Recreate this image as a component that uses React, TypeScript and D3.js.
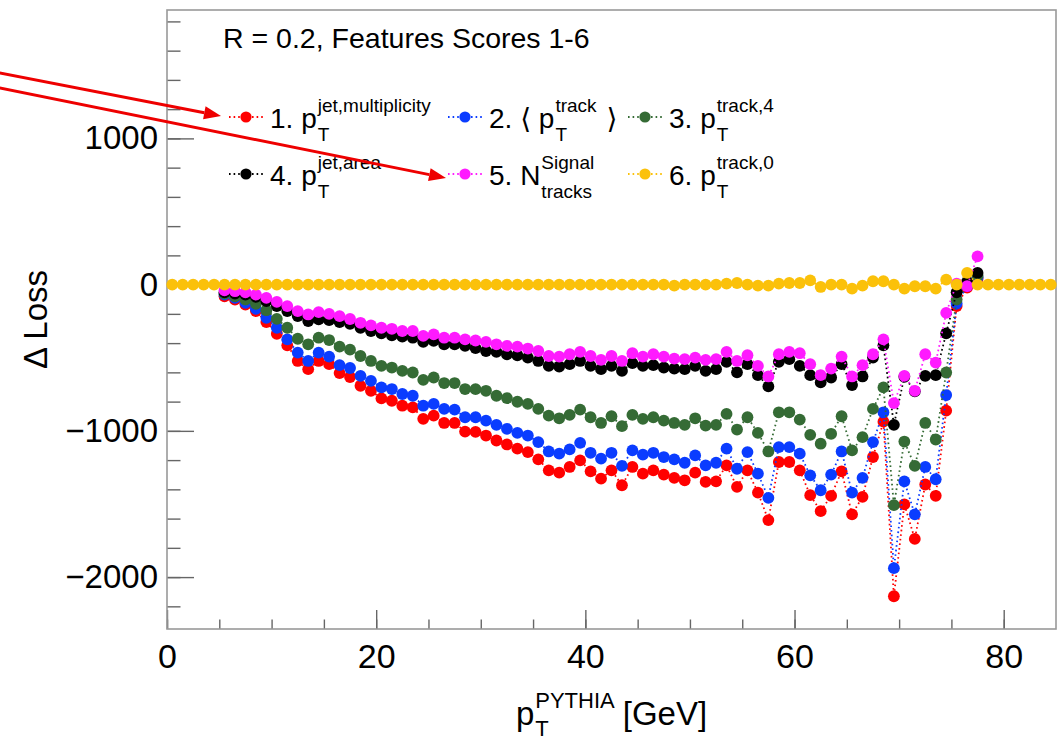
import React, { useEffect, useRef } from 'react';
import * as d3 from 'd3';

const W = 1061;
const H = 745;
const FONT = '"Liberation Sans", Arial, Helvetica, "DejaVu Sans", sans-serif';

// frame of the plot
const FRAME = { left: 167, right: 1056, top: 10, bottom: 629 };

// one bin per GeV, centres 0.5 .. 84.5
const binCentres = d3.range(85).map((i) => i + 0.5);
const firstBin = 5; // features 1-5 are filled from 5.5 GeV up to 77.5 GeV

const xTicks = [0, 20, 40, 60, 80];
const yTicks = [-2000, -1000, 0, 1000];

// features 1-5, bins 5..77
const feat1 = [
  -80, -102, -136, -181, -256, -336, -415, -522, -578, -522,
  -544, -605, -632, -692, -726, -778, -794, -828, -839, -918,
  -896, -946, -946, -1005, -1007, -1032, -1066, -1093, -1122, -1145,
  -1195, -1270, -1286, -1247, -1202, -1277, -1327, -1270, -1372, -1247,
  -1293, -1270, -1299, -1322, -1338, -1286, -1349, -1345, -1236, -1383,
  -1270, -1422, -1610, -1213, -1213, -1270, -1440, -1549, -1444, -1277,
  -1571, -1451, -1179, -937, -2131, -1503, -1739, -1367, -1444, -862,
  -147, -20, 40,
];
const feat2 = [
  -68, -91, -125, -166, -227, -295, -374, -465, -522, -465,
  -492, -551, -570, -624, -658, -703, -714, -748, -760, -828,
  -816, -850, -855, -907, -907, -930, -959, -986, -1014, -1032,
  -1077, -1141, -1156, -1127, -1082, -1150, -1190, -1150, -1240, -1134,
  -1163, -1150, -1179, -1195, -1218, -1168, -1236, -1218, -1122, -1259,
  -1145, -1293, -1458, -1111, -1111, -1156, -1304, -1406, -1299, -1141,
  -1422, -1322, -1077, -873, -1939, -1345, -1571, -1247, -1331, -755,
  -129, -10, 50,
];
const feat3 = [
  -61, -80, -102, -131, -175, -234, -295, -370, -408, -363,
  -379, -424, -445, -488, -522, -556, -567, -590, -601, -651,
  -635, -673, -673, -714, -715, -726, -760, -776, -801, -816,
  -850, -896, -914, -891, -855, -907, -946, -900, -968, -891,
  -918, -907, -930, -946, -959, -914, -964, -959, -884, -991,
  -907, -1014, -1141, -873, -873, -923, -1027, -1088, -1020, -900,
  -1134, -1043, -850, -703, -1508, -1073, -1240, -946, -1059, -601,
  -102, 0, 60,
];
const feat4 = [
  -52, -61, -68, -84, -113, -147, -181, -215, -249, -238,
  -243, -256, -268, -295, -317, -333, -347, -356, -363, -392,
  -385, -408, -408, -419, -434, -454, -460, -476, -483, -499,
  -522, -556, -560, -544, -522, -556, -578, -556, -590, -537,
  -556, -551, -567, -574, -578, -556, -590, -578, -528, -600,
  -544, -619, -696, -528, -510, -556, -619, -669, -635, -544,
  -687, -628, -499, -415, -959, -630, -730, -624, -619, -333,
  -52, 20, 80,
];
const feat5 = [
  -39, -45, -52, -68, -91, -118, -147, -181, -204, -188,
  -200, -215, -235, -261, -279, -295, -302, -317, -317, -351,
  -340, -363, -363, -374, -382, -392, -408, -419, -424, -437,
  -454, -488, -492, -476, -460, -488, -515, -488, -522, -469,
  -492, -476, -492, -506, -510, -499, -515, -510, -460, -522,
  -483, -556, -628, -476, -460, -469, -544, -619, -574, -492,
  -628, -551, -476, -374, -810, -624, -726, -476, -533, -193,
  7, -10, 193,
];
// feature 6, all bins 0..84
const feat6 = [
  0, 0, 0, 0, 0, 0, 0, 0, 0, 0,
  0, 0, 0, 0, 0, 0, 0, 0, 0, 0,
  0, 0, 0, 0, 0, 0, 0, 0, 0, 0,
  0, 0, 0, 0, 0, 0, 0, 0, 0, 0,
  0, 0, 0, 0, 0, 0, 0, 0, -7, 0,
  0, 0, 0, 7, 11, 0, -7, -7, 7, 11,
  11, 29, -16, 0, 0, -27, -7, 23, 23, 0,
  -27, -11, -11, -27, 34, 0, 80, 0, 0, 0,
  0, 0, 0, 0, 0,
];

const series = [
  { values: feat1, start: firstBin, color: '#ff0000' },
  { values: feat2, start: firstBin, color: '#0a3cff' },
  { values: feat3, start: firstBin, color: '#356b35' },
  { values: feat4, start: firstBin, color: '#000000' },
  { values: feat5, start: firstBin, color: '#ff1aff' },
  { values: feat6, start: 0, color: '#fbc10a' },
];

type Piece = { t: string; sup?: string; sub?: string; gap?: number };

// legend entries, three per row
const legendEntries: Piece[][] = [
  [{ t: '1. p', sup: 'jet,multiplicity', sub: 'T' }],
  [{ t: '2. \u27E8 p', sup: 'track', sub: 'T' }, { t: '\u27E9', gap: 10 }],
  [{ t: '3. p', sup: 'track,4', sub: 'T' }],
  [{ t: '4. p', sup: 'jet,area', sub: 'T' }],
  [{ t: '5. N', sup: 'Signal', sub: 'tracks' }],
  [{ t: '6. p', sup: 'track,0', sub: 'T' }],
];

// text with stacked super/subscripts, returns its width
function drawRich(g: any, x: number, y: number, pieces: Piece[], size: number, small: number, supDy: number, subDy: number) {
  let cx = x;
  pieces.forEach((p) => {
    cx += p.gap || 0;
    const m = g.append('text').attr('x', cx).attr('y', y).attr('font-size', size).text(p.t);
    cx += (m.node() as SVGTextElement).getComputedTextLength();
    let w = 0;
    if (p.sup) {
      const s = g.append('text').attr('x', cx + 1).attr('y', y - supDy).attr('font-size', small).text(p.sup);
      w = Math.max(w, (s.node() as SVGTextElement).getComputedTextLength() + 1);
    }
    if (p.sub) {
      const s = g.append('text').attr('x', cx + 1).attr('y', y + subDy).attr('font-size', small).text(p.sub);
      w = Math.max(w, (s.node() as SVGTextElement).getComputedTextLength() + 1);
    }
    cx += w;
  });
  return cx - x;
}

export default function App() {
  const svgRef = useRef<SVGSVGElement>(null);

  useEffect(() => {
    const svg = d3.select(svgRef.current);
    svg.selectAll('*').remove();
    svg.attr('font-family', FONT);

    const x = d3.scaleLinear().domain([0, 85]).range([FRAME.left, FRAME.right]);
    const y = d3.scaleLinear().domain([-2355, 1878]).range([FRAME.bottom, FRAME.top]);

    svg.append('rect').attr('width', W).attr('height', H).attr('fill', '#fff');

    // axes, ticks pointing into the frame
    const xMinor = svg.append('g').attr('transform', `translate(0,${FRAME.bottom})`)
      .call(d3.axisBottom(x).tickValues(d3.range(0, 85, 5)).tickSize(-9.5).tickFormat(() => ''));
    const xMajor = svg.append('g').attr('transform', `translate(0,${FRAME.bottom})`)
      .call(d3.axisBottom(x).tickValues(xTicks).tickSize(-19).tickPadding(15).tickFormat(d3.format('d')));
    const yMinor = svg.append('g').attr('transform', `translate(${FRAME.left},0)`)
      .call(d3.axisLeft(y).tickValues(d3.range(-2200, 1801, 200)).tickSize(-13.5).tickFormat(() => ''));
    const yMajor = svg.append('g').attr('transform', `translate(${FRAME.left},0)`)
      .call(d3.axisLeft(y).tickValues(yTicks).tickSize(-27).tickPadding(9).tickFormat(d3.format('d')));

    [xMinor, xMajor, yMinor, yMajor].forEach((a) => {
      a.select('.domain').remove();
      a.selectAll('line').attr('stroke', '#666').attr('stroke-width', 1.4);
      a.selectAll('text').attr('font-family', FONT).attr('fill', '#000');
    });
    xMajor.selectAll('text').attr('font-size', 34);
    yMajor.selectAll('text').attr('font-size', 33);

    // frame
    svg.append('rect')
      .attr('x', FRAME.left).attr('y', FRAME.top)
      .attr('width', FRAME.right - FRAME.left).attr('height', FRAME.bottom - FRAME.top)
      .attr('fill', 'none').attr('stroke', '#999').attr('stroke-width', 1.6);

    // data: dotted line then markers, one feature after the other
    const plot = svg.append('g');
    series.forEach((s) => {
      const pts = s.values.map((v, i) => [binCentres[s.start + i], v] as [number, number]);
      plot.append('path')
        .attr('d', d3.line().x((d) => x(d[0])).y((d) => y(d[1]))(pts))
        .attr('fill', 'none')
        .attr('stroke', s.color)
        .attr('stroke-width', 1.8)
        .attr('stroke-dasharray', '1.6,3');
      plot.selectAll(null)
        .data(pts)
        .enter()
        .append('circle')
        .attr('cx', (d) => x(d[0]))
        .attr('cy', (d) => y(d[1]))
        .attr('r', 5.9)
        .attr('fill', s.color);
    });

    // title inside the frame
    svg.append('text')
      .attr('x', 223).attr('y', 48)
      .attr('font-size', 28.5)
      .text('R = 0.2, Features Scores 1-6');

    // legend
    const colX = [246, 465, 645];
    const rowY = [128, 185];
    legendEntries.forEach((pieces, i) => {
      const mx = colX[i % 3];
      const base = rowY[Math.floor(i / 3)];
      const my = base - 11;
      const c = series[i].color;
      svg.append('line')
        .attr('x1', mx - 17).attr('x2', mx + 17).attr('y1', my).attr('y2', my)
        .attr('stroke', c).attr('stroke-width', 1.8).attr('stroke-dasharray', '1.6,3');
      svg.append('circle').attr('cx', mx).attr('cy', my).attr('r', 5.6).attr('fill', c);
      const g = svg.append('g');
      drawRich(g, mx + 24, base, pieces, 28, 19, 16, 13);
    });

    // axis titles
    const xt = svg.append('g');
    const wx = drawRich(xt, 0, 725, [{ t: 'p', sup: 'PYTHIA', sub: 'T' }, { t: '[GeV]', gap: 8 }], 33, 22, 17, 11);
    xt.attr('transform', `translate(${(FRAME.left + FRAME.right) / 2 - wx / 2},0)`);

    svg.append('text')
      .attr('transform', `translate(47,${(FRAME.top + FRAME.bottom) / 2}) rotate(-90)`)
      .attr('text-anchor', 'middle')
      .attr('font-size', 33)
      .text('\u0394 Loss');

    // red annotation arrows
    const arrows = [
      { x1: -5, y1: 72, x2: 221, y2: 116 },
      { x1: -5, y1: 87, x2: 446, y2: 178 },
    ];
    arrows.forEach((a) => {
      const ang = Math.atan2(a.y2 - a.y1, a.x2 - a.x1);
      const len = 17;
      const hw = 6.5;
      const bx = a.x2 - len * Math.cos(ang);
      const by = a.y2 - len * Math.sin(ang);
      svg.append('line')
        .attr('x1', a.x1).attr('y1', a.y1).attr('x2', bx).attr('y2', by)
        .attr('stroke', '#ee0000').attr('stroke-width', 3);
      const px = -Math.sin(ang);
      const py = Math.cos(ang);
      svg.append('path')
        .attr('d', `M${a.x2},${a.y2}L${bx + hw * px},${by + hw * py}L${bx - hw * px},${by - hw * py}Z`)
        .attr('fill', '#ee0000');
    });
  }, []);

  return (
    <svg
      ref={svgRef}
      width={W}
      height={H}
      style={{ position: 'absolute', left: 0, top: 0, display: 'block' }}
    />
  );
}
